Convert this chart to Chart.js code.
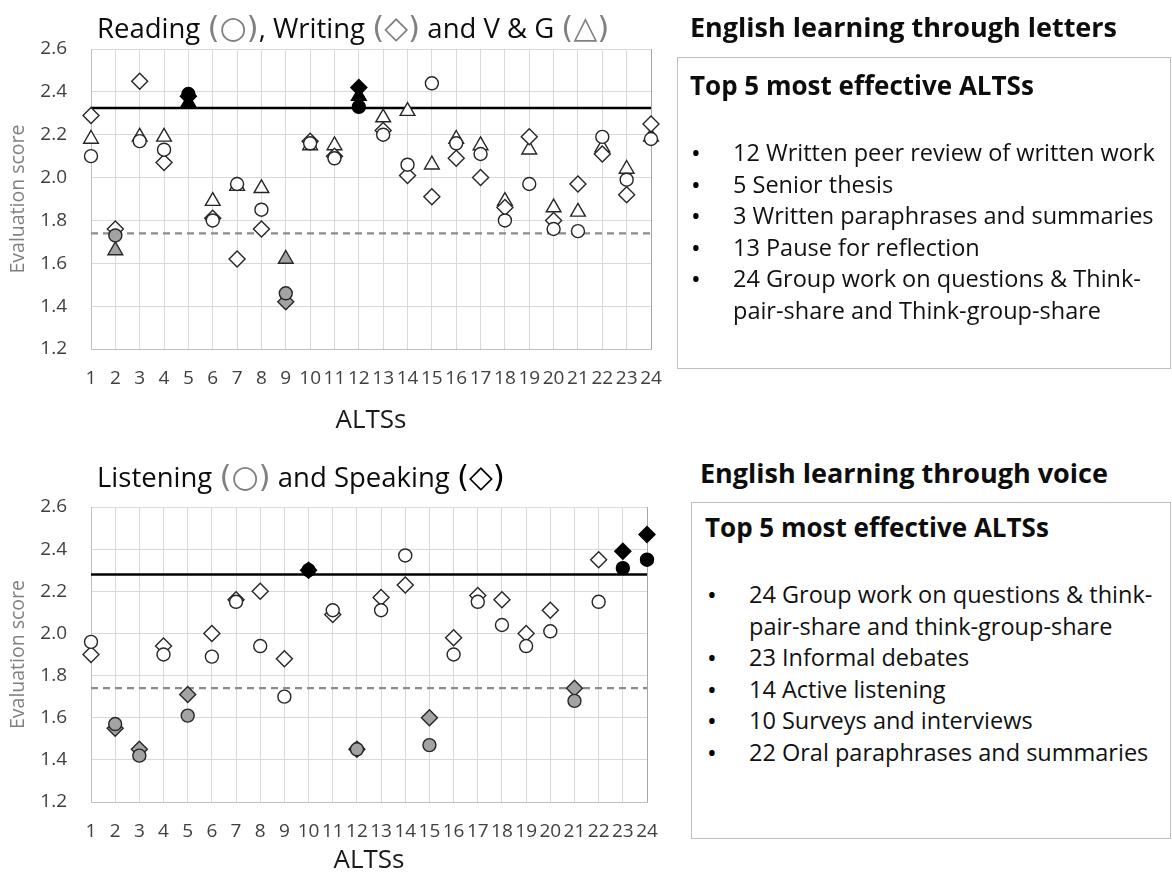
<!DOCTYPE html>
<html>
<head>
<meta charset="utf-8">
<script src="https://cdn.jsdelivr.net/npm/chart.js@4.4.1/dist/chart.umd.min.js"></script>
<style>
    body { margin: 0; background: #fff; }
    #page { position: relative; width: 1172px; height: 877px; overflow: hidden; font-family: "Open Sans", sans-serif; color: #000; }
    canvas { position: absolute; left: 0; }
    .title { position: absolute; font-size: 27.5px; line-height: 34px; white-space: nowrap; color: #0d0d0d; }
    .sym { color: #808080; font-family: "DejaVu Sans", sans-serif; font-size: 31px; }
    .heading { position: absolute; font-weight: bold; font-size: 27px; line-height: 34px; white-space: nowrap; color: #0d0d0d; }
    .box { position: absolute; border: 1px solid #bfbfbf; box-sizing: border-box; }
    .sub { font-size: 26px; }
    .item { position: absolute; font-size: 23.5px; line-height: 31.6px; white-space: nowrap; color: #111; }
    .bullet { position: absolute; font-size: 26px; line-height: 31.6px; }
</style>
</head>
<body>
<div id="page">
    <canvas id="lettersChart" width="680" height="440" style="top:0"></canvas>
    <canvas id="voiceChart" width="680" height="437" style="top:440px"></canvas>

    <div class="title" style="left:97px;top:10px;">Reading <span class="sym">(○)</span>, Writing <span class="sym">(◇)</span> and V &amp; G <span class="sym">(△)</span></div>
    <div class="title" style="left:97px;top:459px;">Listening <span class="sym">(○)</span> and Speaking <span class="sym" style="color:#000">(◇)</span></div>

    <div class="heading" style="left:690px;top:10px;">English learning through letters</div>
    <div class="box" style="left:677px;top:57px;width:494px;height:312px;"></div>
    <div class="heading sub" style="left:690px;top:68px;">Top 5 most effective ALTSs</div>
    <div id="lettersList"></div>

    <div class="heading" style="left:700px;top:456px;">English learning through voice</div>
    <div class="box" style="left:691px;top:502px;width:480px;height:337px;"></div>
    <div class="heading sub" style="left:705px;top:510px;">Top 5 most effective ALTSs</div>
    <div id="voiceList"></div>
</div>

<script>
// ==================== DATA ====================
var altsNumbers = [1, 2, 3, 4, 5, 6, 7, 8, 9, 10, 11, 12, 13, 14, 15, 16, 17, 18, 19, 20, 21, 22, 23, 24];
var yTicks = [1.2, 1.4, 1.6, 1.8, 2.0, 2.2, 2.4, 2.6];

// Letters: reading, writing, vocabulary & grammar
var readingScores = [2.10, 1.73, 2.17, 2.13, 2.39, 1.80, 1.97, 1.85, 1.46, 2.16, 2.09, 2.33, 2.20, 2.06, 2.44, 2.16, 2.11, 1.80, 1.97, 1.76, 1.75, 2.19, 1.99, 2.18];
var writingScores = [2.29, 1.76, 2.45, 2.07, 2.38, 1.81, 1.62, 1.76, 1.42, 2.17, 2.10, 2.42, 2.22, 2.01, 1.91, 2.09, 2.00, 1.86, 2.19, 1.80, 1.97, 2.11, 1.92, 2.25];
var vgScores      = [2.18, 1.66, 2.19, 2.19, 2.35, 1.89, 1.96, 1.95, 1.62, 2.15, 2.15, 2.38, 2.28, 2.31, 2.06, 2.18, 2.15, 1.89, 2.13, 1.86, 1.84, 2.14, 2.04, 2.19];
var readingHigh = [5, 12], readingLow = [2, 9];
var writingHigh = [5, 12], writingLow = [9];
var vgHigh = [5, 12], vgLow = [2, 9];
var lettersUpper = 2.325, lettersLower = 1.74;

// Voice: listening, speaking
var listeningScores = [1.96, 1.57, 1.42, 1.90, 1.61, 1.89, 2.15, 1.94, 1.70, 2.30, 2.11, 1.45, 2.11, 2.37, 1.47, 1.90, 2.15, 2.04, 1.94, 2.01, 1.68, 2.15, 2.31, 2.35];
var speakingScores  = [1.90, 1.55, 1.45, 1.94, 1.71, 2.00, 2.16, 2.20, 1.88, 2.30, 2.09, 1.45, 2.17, 2.23, 1.60, 1.98, 2.18, 2.16, 2.00, 2.11, 1.74, 2.35, 2.39, 2.47];
var listeningHigh = [10, 23, 24], listeningLow = [2, 3, 5, 12, 15, 21];
var speakingHigh = [10, 23, 24], speakingLow = [2, 3, 5, 12, 15, 21];
var voiceUpper = 2.28, voiceLower = 1.74;

var lettersTop5 = [
    ['12 Written peer review of written work'],
    ['5 Senior thesis'],
    ['3 Written paraphrases and summaries'],
    ['13 Pause for reflection'],
    ['24 Group work on questions & Think-', 'pair-share and Think-group-share']
];
var voiceTop5 = [
    ['24 Group work on questions & think-', 'pair-share and think-group-share'],
    ['23 Informal debates'],
    ['14 Active listening'],
    ['10 Surveys and interviews'],
    ['22 Oral paraphrases and summaries']
];

// ==================== TEXT BOXES ====================
function renderList(containerId, items, bulletX, textX, firstTop) {
    var html = '';
    var line = 0;
    items.forEach(function(lines) {
        html += '<div class="bullet" style="left:' + bulletX + 'px;top:' + (firstTop + line * 31.6) + 'px">•</div>';
        lines.forEach(function(text) {
            html += '<div class="item" style="left:' + textX + 'px;top:' + (firstTop + line * 31.6) + 'px">' +
                text.replace(/&/g, '&amp;') + '</div>';
            line++;
        });
    });
    document.getElementById(containerId).innerHTML = html;
}
renderList('lettersList', lettersTop5, 691, 733, 137);
renderList('voiceList', voiceTop5, 707, 749, 579);

// ==================== CHARTS ====================
function toPoints(values) {
    return values.map(function(v, i) { return { x: altsNumbers[i], y: v }; });
}

function markerSeries(label, values, style, high, low) {
    return {
        label: label,
        data: toPoints(values),
        pointStyle: style,
        pointRadius: style === 'circle' ? 6.5 : (style === 'triangle' ? 8.5 : 8),
        pointBorderWidth: 1.4,
        pointBackgroundColor: function(ctx) {
            var n = ctx.raw ? ctx.raw.x : 0;
            if (high.indexOf(n) >= 0) return '#000000';
            if (low.indexOf(n) >= 0) return '#a3a3a3';
            return '#ffffff';
        },
        pointBorderColor: function(ctx) {
            var n = ctx.raw ? ctx.raw.x : 0;
            return high.indexOf(n) >= 0 ? '#000000' : '#262626';
        },
        showLine: false,
        clip: false,
        order: 0
    };
}

function refLine(value, dashed) {
    return {
        type: 'line',
        data: [{ x: altsNumbers[0], y: value }, { x: altsNumbers[altsNumbers.length - 1], y: value }],
        borderColor: dashed ? '#8c8c8c' : '#000000',
        borderWidth: dashed ? 2.2 : 2.6,
        borderDash: dashed ? [7, 5] : [],
        pointRadius: 0,
        clip: false,
        order: 10
    };
}

function buildChart(canvasId, datasets, pad) {
    return new Chart(document.getElementById(canvasId), {
        type: 'scatter',
        data: { datasets: datasets },
        options: {
            responsive: false,
            animation: false,
            devicePixelRatio: 1,
            layout: { padding: { top: pad.top, right: pad.right, left: 0, bottom: 0 } },
            plugins: { legend: { display: false }, tooltip: { enabled: false } },
            scales: {
                x: {
                    type: 'linear',
                    min: 1, max: 24,
                    afterBuildTicks: function(scale) { scale.ticks = altsNumbers.map(function(v) { return { value: v }; }); },
                    afterFit: function(scale) { scale.height = pad.xHeight; scale.paddingLeft = 0; scale.paddingRight = 0; },
                    grid: {
                        color: function(ctx) { return ctx.tick && ctx.tick.value === 24 ? '#a6a6a6' : '#d9d9d9'; },
                        drawTicks: false
                    },
                    border: { color: '#bfbfbf' },
                    ticks: {
                        autoSkip: false, maxRotation: 0,
                        padding: pad.xTickPad,
                        color: '#404040',
                        font: { family: 'Open Sans', size: 19 }
                    },
                    title: {
                        display: true, text: 'ALTSs', color: '#1a1a1a',
                        font: { family: 'Open Sans', size: 26 },
                        padding: { top: 0, bottom: pad.xTitlePad }
                    }
                },
                y: {
                    min: 1.2, max: 2.6,
                    afterBuildTicks: function(scale) { scale.ticks = yTicks.map(function(v) { return { value: v }; }); },
                    afterFit: function(scale) { scale.width = 91; scale.paddingTop = 0; scale.paddingBottom = 0; },
                    grid: { color: '#d9d9d9', drawTicks: false },
                    border: { color: '#bfbfbf' },
                    ticks: {
                        padding: 24,
                        color: '#404040',
                        font: { family: 'Open Sans', size: 19 },
                        callback: function(v) { return Number(v).toFixed(1); }
                    },
                    title: {
                        display: true, text: 'Evaluation score', color: '#808080',
                        font: { family: 'Open Sans', size: 19.5 },
                        padding: { top: 7, bottom: 0 }
                    }
                }
            }
        }
    });
}

buildChart('lettersChart', [
    markerSeries('Reading', readingScores, 'circle', readingHigh, readingLow),
    markerSeries('Writing', writingScores, 'rectRot', writingHigh, writingLow),
    markerSeries('V & G', vgScores, 'triangle', vgHigh, vgLow),
    refLine(lettersUpper, false),
    refLine(lettersLower, true)
], { top: 49, right: 29, xHeight: 91, xTickPad: 18, xTitlePad: 4 });

buildChart('voiceChart', [
    markerSeries('Listening', listeningScores, 'circle', listeningHigh, listeningLow),
    markerSeries('Speaking', speakingScores, 'rectRot', speakingHigh, speakingLow),
    refLine(voiceUpper, false),
    refLine(voiceLower, true)
], { top: 67, right: 33, xHeight: 75, xTickPad: 18, xTitlePad: 1 });
</script>
</body>
</html>
